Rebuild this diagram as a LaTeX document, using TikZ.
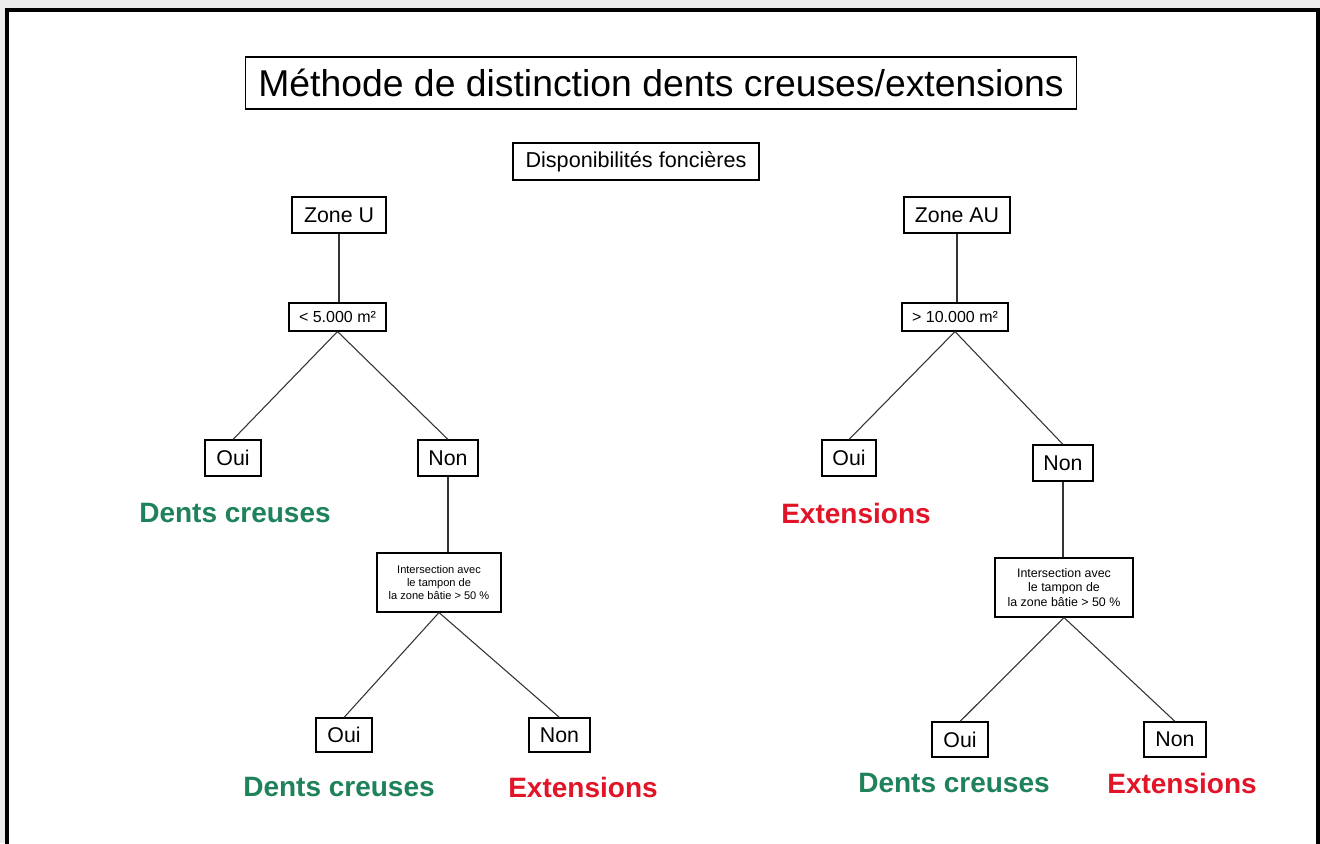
\documentclass[tikz,border=0pt]{standalone}
\usepackage{fontspec}
\setmainfont{Liberation Sans}
\definecolor{dentsgreen}{RGB}{30,130,90}
\definecolor{extred}{RGB}{225,20,40}
\definecolor{bggray}{RGB}{236,236,236}
\def\pxu{0.75pt}
\tikzset{
    box/.style = {draw, line width = 0.8pt, fill = white, inner sep = 0pt, align = center},
    bigtext/.style = {font = \fontsize{16}{18}\selectfont},
    smalltext/.style = {font = \fontsize{12}{14}\selectfont},
    verdict/.style = {font = \bfseries\fontsize{21}{24}\selectfont},
    branch/.style = {draw = black!80, line width = 0.8pt}
}
\begin{document}
\begin{tikzpicture}[x = 0.75pt, y = -0.75pt]
        \clip (0, 0) rectangle (1320, 843);
        \fill[bggray] (0, 0) rectangle (1320, 843);
        \draw[line width = 3pt, fill = white] (7, 10) rectangle (1318, 870);
        \node[box, font = \fontsize{28}{32}\selectfont, minimum width = 831*\pxu, minimum height = 52*\pxu]
            (title) at (661, 83) {Méthode de distinction dents creuses/extensions};
        \node[box, font = \fontsize{16.2}{18}\selectfont, minimum width = 246*\pxu, minimum height = 37*\pxu]
            (dispo) at (636, 161.5) {Disponibilités foncières};
        % zone U
        \node[box, bigtext, minimum width = 94*\pxu, minimum height = 36*\pxu] (zoneU) at (339, 215) {Zone U};
        \node[box, smalltext, minimum width = 97*\pxu, minimum height = 28*\pxu] (seuilU) at (337.5, 317) {< 5.000 m²};
        \node[box, bigtext, minimum width = 56*\pxu, minimum height = 36*\pxu] (ouiU) at (233, 458) {Oui};
        \node[box, bigtext, minimum width = 60*\pxu, minimum height = 36*\pxu] (nonU) at (448, 458) {Non};
        \node[verdict, dentsgreen] (dentsU) at (235, 513) {Dents creuses};
        \node[box, font = \fontsize{8.3}{10}\selectfont, minimum width = 124*\pxu, minimum height = 59*\pxu]
            (interU) at (439, 582.5) {Intersection avec\\le tampon de\\la zone bâtie > 50 \%};
        \node[box, bigtext, minimum width = 56*\pxu, minimum height = 34*\pxu] (ouiUb) at (344, 735) {Oui};
        \node[box, bigtext, minimum width = 61*\pxu, minimum height = 34*\pxu] (nonUb) at (559.5, 735) {Non};
        \node[verdict, dentsgreen] (dentsUb) at (339, 787) {Dents creuses};
        \node[verdict, extred] (extUb) at (583, 787) {Extensions};
        % zone AU
        \node[box, bigtext, minimum width = 106*\pxu, minimum height = 36*\pxu] (zoneAU) at (957, 215) {Zone AU};
        \node[box, smalltext, minimum width = 106*\pxu, minimum height = 28*\pxu] (seuilAU) at (955, 317) {> 10.000 m²};
        \node[box, bigtext, minimum width = 54*\pxu, minimum height = 36*\pxu] (ouiAU) at (849, 458) {Oui};
        \node[box, bigtext, minimum width = 60*\pxu, minimum height = 36*\pxu] (nonAU) at (1063, 463) {Non};
        \node[verdict, extred] (extAU) at (856, 513) {Extensions};
        \node[box, font = \fontsize{9.3}{11.2}\selectfont, minimum width = 138*\pxu, minimum height = 59*\pxu]
            (interAU) at (1064, 587.5) {Intersection avec\\le tampon de\\la zone bâtie > 50 \%};
        \node[box, bigtext, minimum width = 56*\pxu, minimum height = 35*\pxu] (ouiAUb) at (960, 739.5) {Oui};
        \node[box, bigtext, minimum width = 62*\pxu, minimum height = 35*\pxu] (nonAUb) at (1175, 739.5) {Non};
        \node[verdict, dentsgreen] (dentsAUb) at (954, 783) {Dents creuses};
        \node[verdict, extred] (extAUb) at (1182, 783) {Extensions};
        % branches
        \draw[branch] (zoneU.south) -- (zoneU.south |- seuilU.north);
        \draw[branch] (seuilU.south) -- (ouiU.north);
        \draw[branch] (seuilU.south) -- (nonU.north);
        \draw[branch] (nonU.south) -- (nonU.south |- interU.north);
        \draw[branch] (interU.south) -- (ouiUb.north);
        \draw[branch] (interU.south) -- (nonUb.north);
        \draw[branch] (zoneAU.south) -- (zoneAU.south |- seuilAU.north);
        \draw[branch] (seuilAU.south) -- (ouiAU.north);
        \draw[branch] (seuilAU.south) -- (nonAU.north);
        \draw[branch] (nonAU.south) -- (nonAU.south |- interAU.north);
        \draw[branch] (interAU.south) -- (ouiAUb.north);
        \draw[branch] (interAU.south) -- (nonAUb.north);
    \end{tikzpicture}
\end{document}
